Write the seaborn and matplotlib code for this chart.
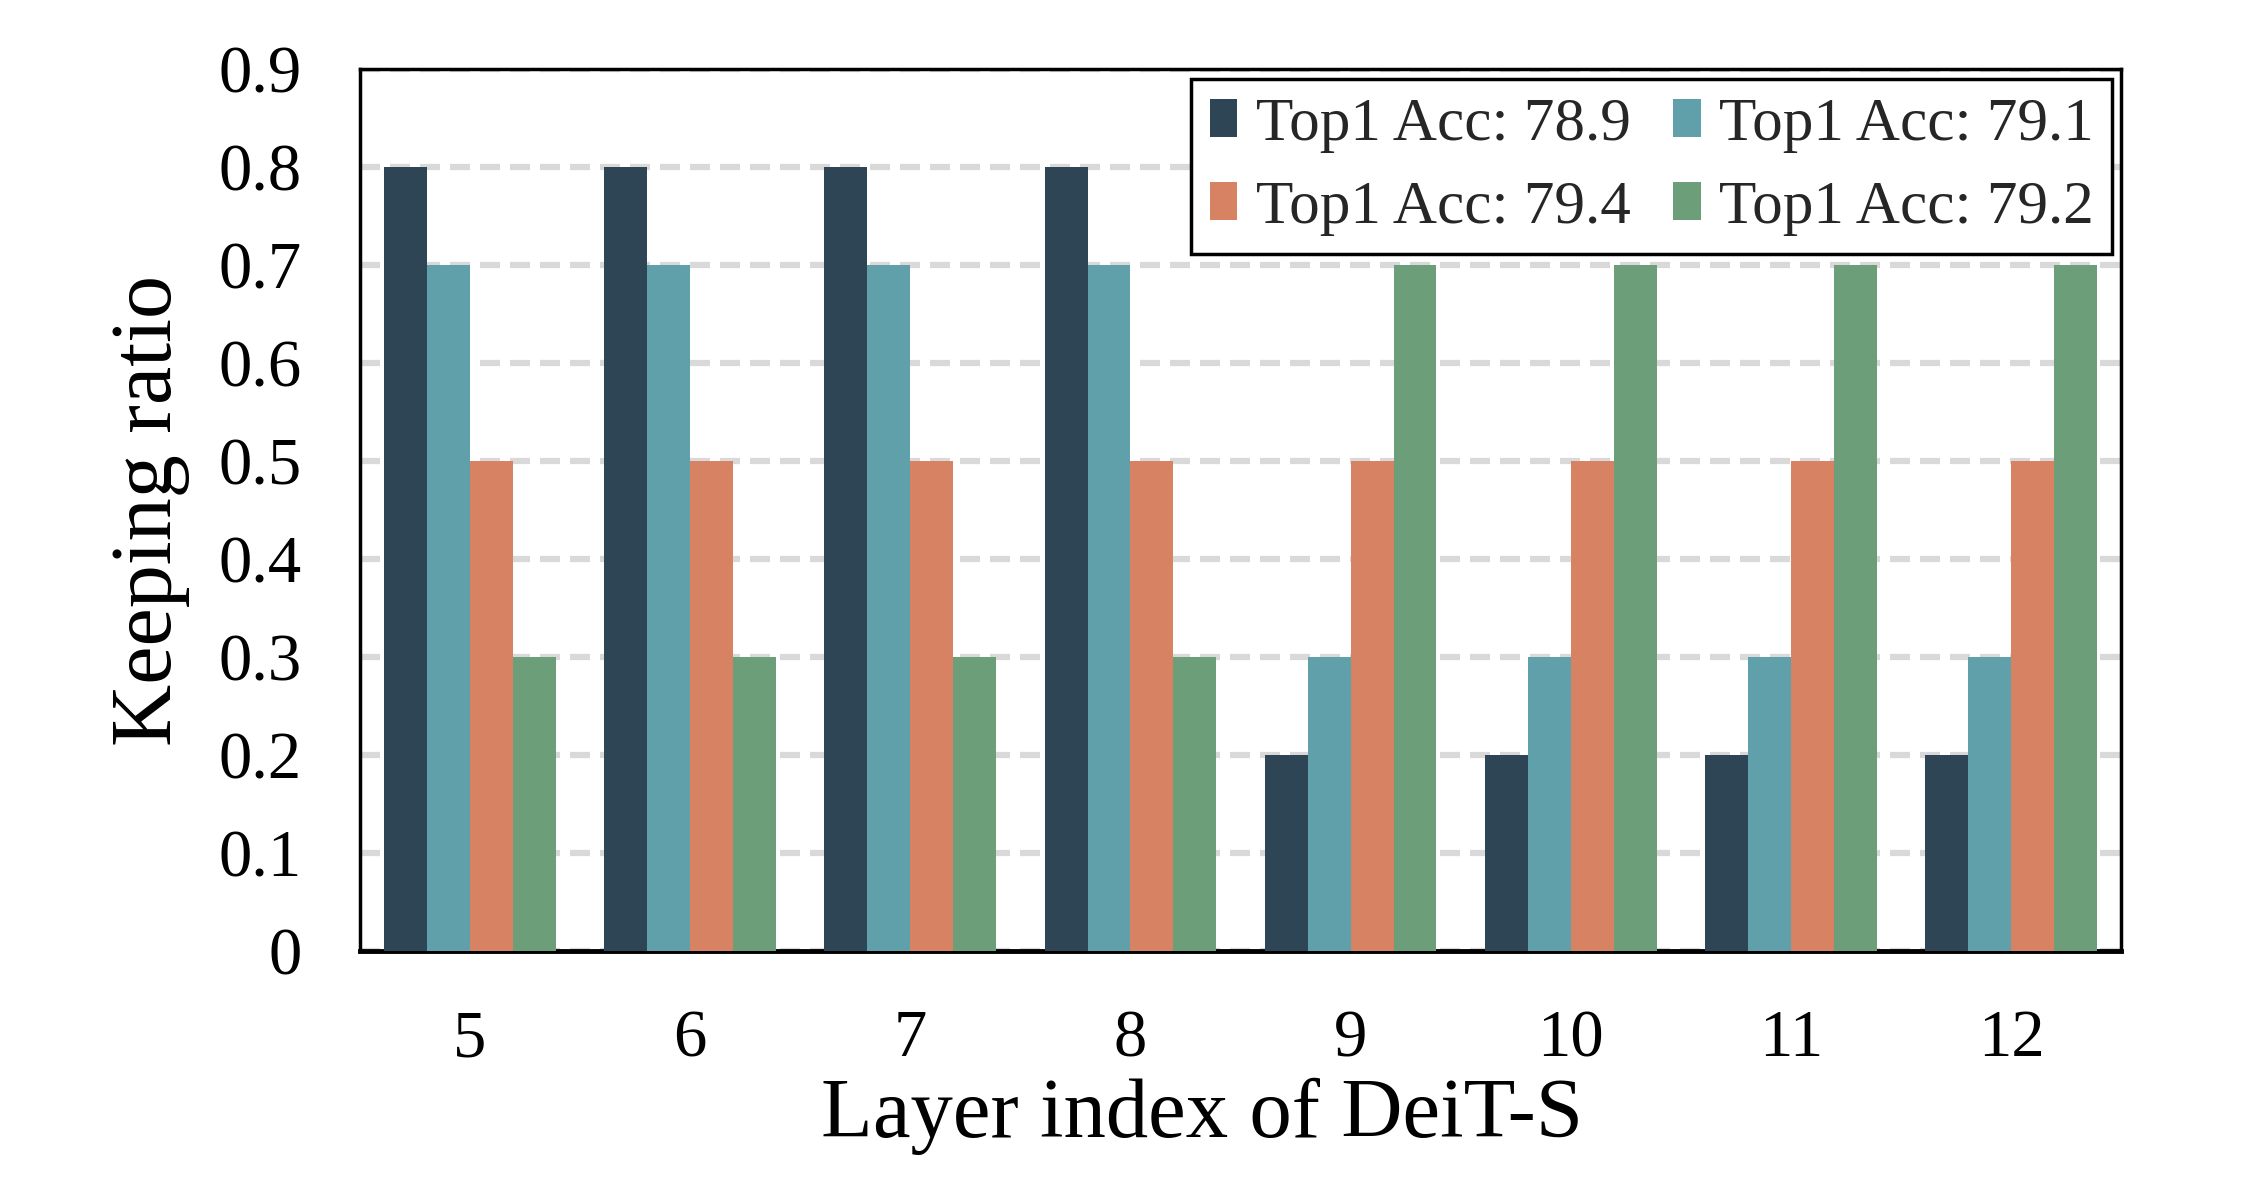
import matplotlib
matplotlib.use("Agg")
import matplotlib.pyplot as plt
import seaborn as sns
import pandas as pd

layers = ["5", "6", "7", "8", "9", "10", "11", "12"]
series_names = ["Top1 Acc: 78.9", "Top1 Acc: 79.1", "Top1 Acc: 79.4", "Top1 Acc: 79.2"]
acc_789 = [0.8, 0.8, 0.8, 0.8, 0.2, 0.2, 0.2, 0.2]
acc_791 = [0.7, 0.7, 0.7, 0.7, 0.3, 0.3, 0.3, 0.3]
acc_794 = [0.5, 0.5, 0.5, 0.5, 0.5, 0.5, 0.5, 0.5]
acc_792 = [0.3, 0.3, 0.3, 0.3, 0.7, 0.7, 0.7, 0.7]
yticks = [0, 0.1, 0.2, 0.3, 0.4, 0.5, 0.6, 0.7, 0.8, 0.9]
ytick_labels = ["0", "0.1", "0.2", "0.3", "0.4", "0.5", "0.6", "0.7", "0.8", "0.9"]
colors = ["#2d4554", "#5fa0aa", "#d78263", "#6c9e7a"]

rows = []
for name, vals in zip(series_names, [acc_789, acc_791, acc_794, acc_792]):
    for l, v in zip(layers, vals):
        rows.append({"layer": l, "series": name, "ratio": v})
df = pd.DataFrame(rows)

sns.set_theme(style="white")
plt.rcParams["font.family"] = ["Liberation Serif", "DejaVu Serif"]

fig = plt.figure(figsize=(22.6, 11.9), dpi=100)
ax = fig.add_axes([0.1593, 0.2008, 0.7792, 0.7412])

sns.barplot(data=df, x="layer", y="ratio", hue="series", order=layers,
            hue_order=series_names, palette=colors, width=0.78,
            saturation=1, edgecolor="none", linewidth=0, ax=ax, zorder=3)

ax.set_ylim(0, 0.9)
ax.set_xlim(-0.5, 7.5)
ax.set_yticks(yticks)
ax.set_yticklabels(ytick_labels)
ax.yaxis.grid(True, color="#d9d9d9", linestyle=(0, (3.2, 1.6)), linewidth=4.5, zorder=0)
ax.xaxis.grid(False)
ax.set_axisbelow(True)

for s in ax.spines.values():
    s.set_visible(True)
    s.set_color("black")
    s.set_linewidth(2.5)
ax.spines["bottom"].set_linewidth(3.5)

ax.tick_params(axis="both", which="both", length=0, labelsize=48, colors="black")
ax.tick_params(axis="y", pad=42)
ax.tick_params(axis="x", pad=42)

ax.set_xlabel("Layer index of DeiT-S", fontsize=61, color="black", va="center")
ax.set_ylabel("Keeping ratio", fontsize=62, color="black", va="center")
ax.xaxis.set_label_coords(0.478, -0.187)
ax.yaxis.set_label_coords(-0.119, 0.5)

handles, labels = ax.get_legend_handles_labels()
order = [0, 2, 1, 3]
leg = ax.legend([handles[i] for i in order], [labels[i] for i in order],
                loc="upper right", ncol=2, fontsize=44, frameon=True,
                fancybox=False, edgecolor="black", framealpha=1,
                handlelength=0.45, handleheight=0.6, handletextpad=0.3,
                columnspacing=0.7, borderpad=0.3, labelspacing=0.45,
                borderaxespad=0, bbox_to_anchor=(0.995, 0.989))
leg.get_frame().set_linewidth(2.5)

fig.savefig("out.png", dpi=100)
